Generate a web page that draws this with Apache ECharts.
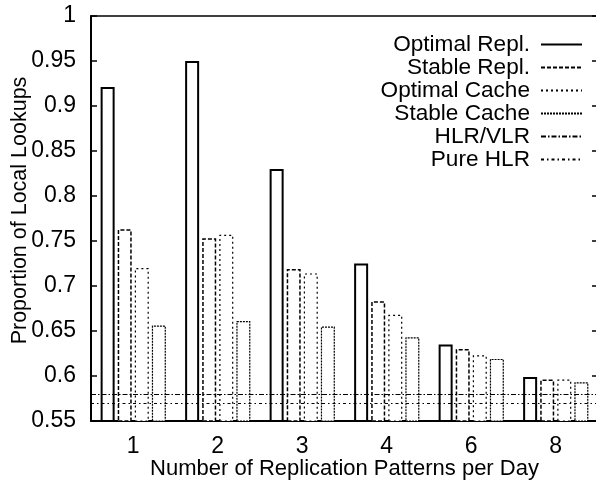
<!DOCTYPE html>
<html>
<head>
<meta charset="utf-8">
<script src="https://cdn.jsdelivr.net/npm/echarts@6/dist/echarts.min.js"></script>
<style>
html, body { margin: 0; padding: 0; background: #fff; }
#chart { width: 596px; height: 480px; }
</style>
</head>
<body>
<div id="chart"></div>
<script>
// patterns per day
var categories = ['1', '2', '3', '4', '6', '8'];
var optimalRepl = [0.921, 0.950, 0.830, 0.725, 0.635, 0.599];
var stableRepl = [0.763, 0.753, 0.719, 0.683, 0.630, 0.596];
var optimalCache = [0.720, 0.757, 0.714, 0.668, 0.623, 0.596];
var stableCache = [0.656, 0.661, 0.655, 0.643, 0.619, 0.593];
var hlrVlr = 0.581;
var pureHlr = 0.571;

var font = 'Liberation Sans, Arial, Helvetica, sans-serif';
var myChart = echarts.init(document.getElementById('chart'));

function barSeries(name, data, width, dash) {
	return {
		name: name + ' ',
		type: 'bar',
		data: data,
		barWidth: 14,
		barGap: '22%',
		silent: true,
		itemStyle: { color: '#fff', borderColor: '#000', borderWidth: width, borderType: dash }
	};
}
// legend-only series, so the legend shows line samples
function legendLine(name, width, dash, level) {
	var s = {
		name: name,
		type: 'line',
		data: [],
		symbol: 'none',
		itemStyle: { color: '#000' },
		lineStyle: { color: '#000', width: width, type: dash }
	};
	if (level !== undefined) {
		s.markLine = {
			silent: true,
			symbol: 'none',
			label: { show: false },
			lineStyle: { color: '#000', width: width, type: dash },
			data: [{ yAxis: level }]
		};
	}
	return s;
}

var option = {
	animation: false,
	textStyle: { fontFamily: font },
	grid: { left: 91, right: -2, top: 16, bottom: 59, outerBoundsMode: 'none', containLabel: false },
	legend: {
		orient: 'vertical',
		right: 8,
		top: 28,
		align: 'right',
		itemWidth: 41,
		itemHeight: 12,
		itemGap: 0,
		selectedMode: false,
		itemStyle: { opacity: 0 },
		textStyle: { fontFamily: font, fontSize: 22.6, color: '#000', lineHeight: 22.3, padding: [0, 6, 0, 0] },
		data: ['Optimal Repl.', 'Stable Repl.', 'Optimal Cache', 'Stable Cache', 'HLR/VLR', 'Pure HLR']
	},
	xAxis: [{
		type: 'category',
		data: categories,
		position: 'bottom',
		name: 'Number of Replication Patterns per Day',
		nameLocation: 'middle',
		nameGap: 37,
		nameMoveOverlap: false,
		nameTextStyle: { fontFamily: font, fontSize: 22, color: '#000' },
		axisLine: { lineStyle: { color: '#000', width: 2 } },
		axisTick: { inside: true, alignWithLabel: true, length: 5, lineStyle: { color: '#000', width: 1.5 } },
		axisLabel: { fontFamily: font, fontSize: 23, color: '#000', margin: 14 },
		splitLine: { show: false }
	}, {
		type: 'category',
		data: categories,
		position: 'top',
		axisLine: { lineStyle: { color: '#000', width: 1.5 } },
		axisTick: { inside: true, alignWithLabel: true, length: 6, lineStyle: { color: '#000', width: 1.5 } },
		axisLabel: { show: false },
		splitLine: { show: false }
	}],
	yAxis: [{
		type: 'value',
		min: 0.55,
		max: 1,
		interval: 0.05,
		name: 'Proportion of Local Lookups',
		nameLocation: 'middle',
		nameGap: 60,
		nameMoveOverlap: false,
		nameTextStyle: { fontFamily: font, fontSize: 21.5, color: '#000', padding: [0, 0, 0, 16] },
		axisLine: { show: true, lineStyle: { color: '#000', width: 2 } },
		axisTick: { show: true, inside: true, length: 6, lineStyle: { color: '#000', width: 1.5 } },
		axisLabel: { fontFamily: font, fontSize: 23, color: '#000', margin: 15 },
		splitLine: { show: false }
	}, {
		type: 'value',
		min: 0.55,
		max: 1,
		interval: 0.05,
		position: 'right',
		axisLine: { show: true, lineStyle: { color: '#000', width: 1.5 } },
		axisTick: { show: true, inside: true, length: 6, lineStyle: { color: '#000', width: 1.5 } },
		axisLabel: { show: false },
		splitLine: { show: false }
	}],
	series: [
		legendLine('Optimal Repl.', 1.5, 'solid'),
		legendLine('Stable Repl.', 1.2, [4, 2]),
		legendLine('Optimal Cache', 1.2, [2, 3]),
		legendLine('Stable Cache', 1.2, [2, 1]),
		legendLine('HLR/VLR', 1.2, [5, 2, 1.5, 2], hlrVlr),
		legendLine('Pure HLR', 1.2, [3, 3, 1.5, 3], pureHlr),
		barSeries('Optimal Repl.', optimalRepl, 2, 'solid'),
		barSeries('Stable Repl.', stableRepl, 1.5, [4, 2]),
		barSeries('Optimal Cache', optimalCache, 1.2, [2, 3]),
		barSeries('Stable Cache', stableCache, 1.2, [2, 1])
	]
};
myChart.setOption(option, true);
</script>
</body>
</html>
